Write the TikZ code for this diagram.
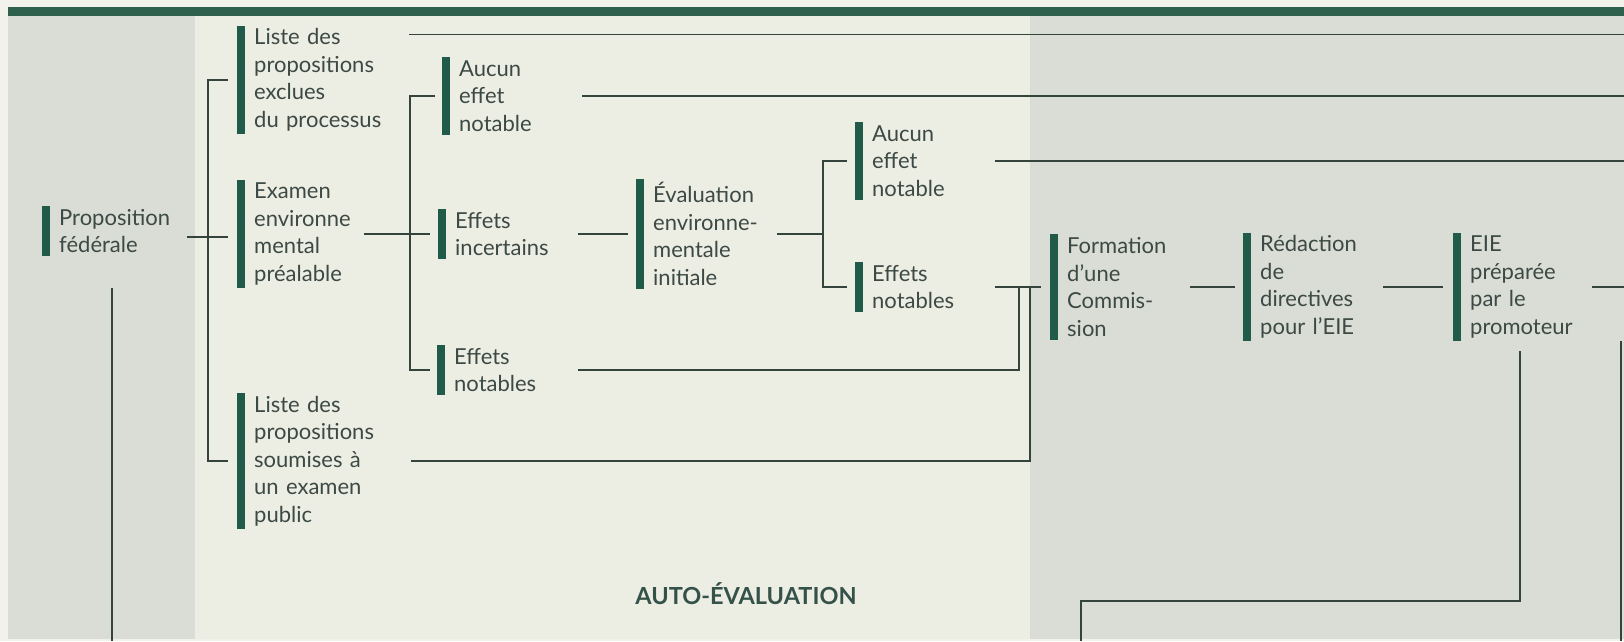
\documentclass[tikz,border=0pt]{standalone}
\usepackage{fontspec}
\setmainfont{Lato}
\usepackage{tikz}
\usetikzlibrary{calc}
\definecolor{pagecol}{HTML}{F2F2EA}
\definecolor{panelcol}{HTML}{D9DDD6}
\definecolor{midcol}{HTML}{EDEEE3}
\definecolor{bandcol}{HTML}{2F5F4D}
\definecolor{barcol}{HTML}{1F5B48}
\definecolor{inkcol}{HTML}{3C4944}
\definecolor{linecol}{HTML}{34443D}
\definecolor{titlecol}{HTML}{35524A}
\newcommand{\blocfont}{\fontsize{22}{27.5}\selectfont}

\begin{document}
\begin{tikzpicture}[x=1pt, y=-1pt,
  bloc/.style={align=left, anchor=west, text width=#1, inner xsep=0pt,
               inner ysep=3pt, font=\blocfont, text=inkcol},
  lien/.style={draw=linecol, line width=1.5pt}
]
  \useasboundingbox (0,0) rectangle (1624,641);

  % Background
  \fill[pagecol] (0,0) rectangle (1624,641);
  \fill[panelcol] (8,16) rectangle (195,639);
  \fill[midcol] (195,16) rectangle (1030,639);
  \fill[panelcol] (1030,16) rectangle (1624,639);
  \fill[bandcol] (8,7) rectangle (1624,16);

  % Blocks
  \node[bloc=118] (prop) at (59,231) {Proposition\\fédérale};
  \node[bloc=145] (exclu) at (254,80) {Liste des\\propositions\\exclues\\du processus};
  \node[bloc=100] (examen) at (254,234) {Examen\\environne\\mental\\préalable};
  \node[bloc=147] (soumis) at (254,461) {Liste des\\propositions\\soumises à\\un examen\\public};
  \node[bloc=115] (aucunA) at (459,96) {Aucun\\effet\\notable};
  \node[bloc=115] (incert) at (455,234) {Effets\\incertains};
  \node[bloc=116] (notabA) at (454,370) {Effets\\notables};
  \node[bloc=114] (evalu) at (653,234) {Évaluation\\environne-\\mentale\\initiale};
  \node[bloc=115] (aucunB) at (872,161) {Aucun\\effet\\notable};
  \node[bloc=115] (notabB) at (872,287) {Effets\\notables};
  \node[bloc=113] (commis) at (1067,287) {Formation\\d’une\\Commis-\\sion};
  \node[bloc=113] (redac) at (1260,287) {Rédaction\\de\\directives\\pour l’EIE};
  \node[bloc=112] (eie) at (1470,287) {EIE\\préparée\\par le\\promoteur};

  \foreach \n in {prop, exclu, examen, soumis, aucunA, incert, notabA,
                  evalu, aucunB, notabB, commis, redac, eie}
    \fill[barcol] ([xshift=-17pt]\n.north west) rectangle ([xshift=-9pt]\n.south west);

  % Helper coordinates
  \coordinate (rim) at (1624,0);
  \coordinate (bot) at (0,641);
  \coordinate (trA) at (208,0);
  \coordinate (trB) at (410,0);
  \coordinate (trC) at (823,0);
  \coordinate (trD) at (1019,0);
  \coordinate (trE) at (1030,0);
  \coordinate (rimx) at (1621,0);
  \coordinate (retour) at (1081,601);

  % Left tree
  \draw[lien] ($(prop.east |- examen.west)+(10,3)$) -- ([xshift=-26pt,yshift=-3pt]examen.west);
  \draw[lien] ([xshift=-26pt]exclu.west) -| (trA |- soumis.west) -- ([xshift=-26pt]soumis.west);
  \draw[lien] ([xshift=-6pt,yshift=-32pt]prop.south) coordinate (p1) -- (p1 |- bot);

  % Middle tree
  \draw[lien] ([xshift=10pt]examen.east) -- ([xshift=-25pt]incert.west);
  \draw[lien] ([xshift=-24pt]aucunA.west) -| (trB |- notabA.west) -- ([xshift=-24pt]notabA.west);
  \draw[lien] ([xshift=8pt]incert.east) -- ([xshift=-25pt]evalu.west);
  \draw[lien] ([xshift=10pt]evalu.east) -- (trC |- evalu.east);
  \draw[lien] ([xshift=-25pt]aucunB.west) -| (trC |- notabB.west) -- ([xshift=-25pt]notabB.west);

  % Lines leaving to the right
  \draw[lien] ([xshift=10pt,yshift=-9pt]exclu.north east) coordinate (e1) -- (e1 -| rim);
  \draw[lien] ([xshift=8pt]aucunA.east) coordinate (e2) -- (e2 -| rim);
  \draw[lien] ([xshift=8pt]aucunB.east) coordinate (e3) -- (e3 -| rim);

  % Into the Commission
  \draw[lien] ([xshift=8pt]notabB.east) -- ([xshift=-26pt]commis.west);
  \draw[lien] ([xshift=8pt]notabA.east) -| (trD |- commis.west);
  \draw[lien] ([xshift=10pt]soumis.east) -| (trE |- commis.west);

  % Right chain
  \draw[lien] ([xshift=10pt]commis.east) -- ([xshift=-25pt]redac.west);
  \draw[lien] ([xshift=10pt]redac.east) -- ([xshift=-27pt]eie.west);
  \draw[lien] ([xshift=10pt]eie.east) coordinate (e4) -- (e4 -| rim);
  \draw[lien] (rimx |- eie.south) -- (rimx |- bot);
  \draw[lien] ([xshift=-6pt,yshift=-10pt]eie.south) |- (retour) -- (retour |- bot);

  \node[font=\bfseries\fontsize{23.5}{26}\selectfont, text=titlecol] (titre) at (746,594)
    {AUTO-ÉVALUATION};
\end{tikzpicture}
\end{document}
